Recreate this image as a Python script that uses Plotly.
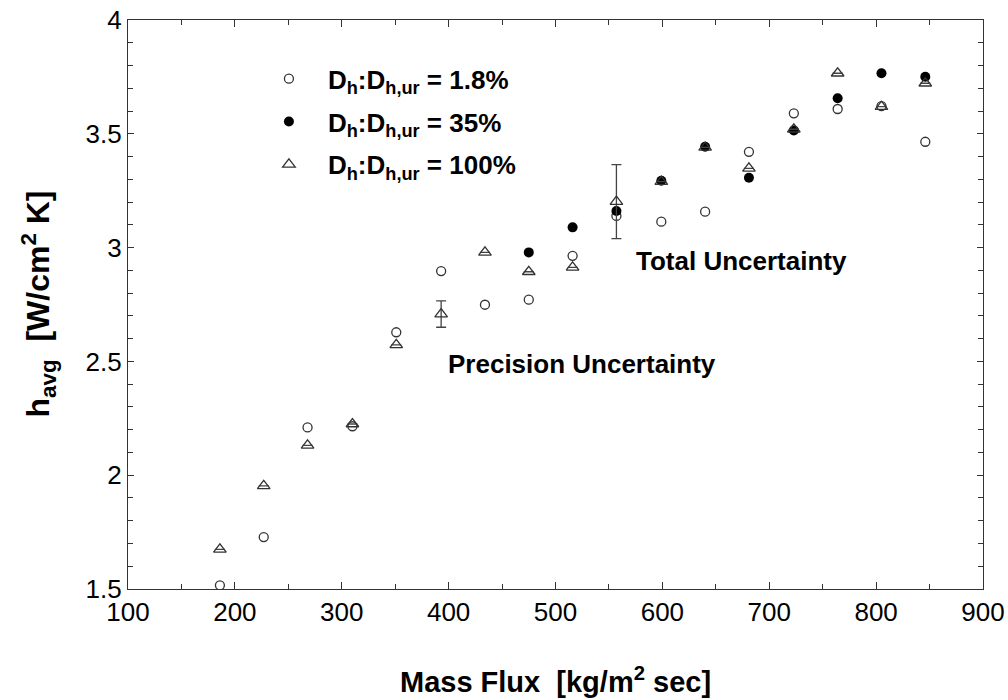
import plotly.graph_objects as go

# Mass flux [kg/m^2 sec]
mass_flux = [186, 227, 268, 310, 351, 393, 434, 475, 516, 557, 599, 640, 681, 723, 764, 805, 846]

# h_avg [W/cm^2 K]
h_18 = [1.516, 1.728, 2.210, 2.215, 2.628, 2.897, 2.749, 2.771, 2.964, 3.139, 3.114, 3.158, 3.421, 3.590, 3.609, 3.622, 3.465]
mass_flux_35 = [475, 516, 557, 599, 640, 681, 723, 764, 805, 846]
h_35 = [2.979, 3.089, 3.161, 3.294, 3.443, 3.307, 3.515, 3.656, 3.766, 3.751]
h_100 = [1.674, 1.953, 2.131, 2.225, 2.573, 2.708, 2.979, 2.894, 2.913, 3.202, 3.290, 3.440, 3.348, 3.520, 3.766, 3.619, 3.722]
# uncertainty bars on the 100% series (precision at 393, total at 557)
err_100 = [None, None, None, None, None, 0.058, None, None, None, 0.163, None, None, None, None, None, None, None]

x_ticks = [100, 200, 300, 400, 500, 600, 700, 800, 900]
y_ticks = [1.5, 2, 2.5, 3, 3.5, 4]
y_tick_text = ["1.5", "2", "2.5", "3", "3.5", "4"]

FONT = "Liberation Sans, Arial, sans-serif"
INK = "#333333"

fig = go.Figure()
fig.add_trace(go.Scatter(
    x=mass_flux, y=h_18, mode="markers",
    name="<b>D<sub>h</sub>:D<sub>h,ur</sub> = 1.8%</b>",
    legendgroup="a",
    marker=dict(symbol="circle-open", size=9, color=INK, line=dict(width=1.3, color=INK)),
))
fig.add_trace(go.Scatter(
    x=mass_flux_35, y=h_35, mode="markers",
    name="<b>D<sub>h</sub>:D<sub>h,ur</sub> = 35%</b>",
    legendgroup="b",
    marker=dict(symbol="circle", size=10, color="black", line=dict(width=0)),
))
fig.add_trace(go.Scatter(
    x=mass_flux, y=h_100, mode="markers",
    name="<b>D<sub>h</sub>:D<sub>h,ur</sub> = 100%</b>",
    legendgroup="c",
    marker=dict(symbol="triangle-up-open", size=11, color=INK, line=dict(width=1.3, color=INK)),
    error_y=dict(type="data", array=err_100, visible=True, color="#444444", thickness=1.3, width=5),
))

fig.add_annotation(x=674, y=2.943, xref="x", yref="y", text="<b>Total Uncertainty</b>",
                   showarrow=False, font=dict(family=FONT, size=26, color="black"))
fig.add_annotation(x=524.5, y=2.49, xref="x", yref="y", text="<b>Precision Uncertainty</b>",
                   showarrow=False, font=dict(family=FONT, size=26, color="black"))

# axis titles
fig.add_annotation(x=0.5, y=0, xref="paper", yref="paper", yshift=-91, yanchor="middle",
                   text="<b>Mass Flux  [kg/m<sup>2</sup> sec]</b>", showarrow=False,
                   font=dict(family=FONT, size=29, color="black"))
fig.add_annotation(x=0, y=0.5, xref="paper", yref="paper", xshift=-90, xanchor="center",
                   text="<b>h<sub>avg</sub>  [W/cm<sup>2</sup> K]</b>", showarrow=False, textangle=-90,
                   font=dict(family=FONT, size=32, color="black"))

axis_common = dict(
    showline=True, linecolor=INK, linewidth=1.3, mirror="ticks", automargin=False,
    ticks="inside", tickcolor=INK, tickwidth=1.2, showgrid=False, zeroline=False,
    tickfont=dict(family=FONT, size=26, color="black"),
)
fig.update_xaxes(range=[100, 900], tickvals=x_ticks, ticklen=7,
                 minor=dict(ticks="inside", dtick=50, ticklen=5, tickcolor=INK, tickwidth=1.2),
                 **axis_common)
fig.update_yaxes(range=[1.5, 4], tickvals=y_ticks, ticktext=y_tick_text, ticklen=6,
                 minor=dict(ticks="inside", dtick=0.1, ticklen=5, tickcolor=INK, tickwidth=1.2),
                 **axis_common)

fig.update_layout(
    width=1008, height=700,
    margin=dict(l=128, r=25, t=20, b=111, autoexpand=False),
    paper_bgcolor="white", plot_bgcolor="white",
    font=dict(family=FONT, color="black"),
    showlegend=True,
    legend=dict(x=0.1426, y=0.938, xanchor="left", yanchor="top",
                bgcolor="rgba(0,0,0,0)", font=dict(family=FONT, size=26, color="black"),
                itemwidth=68, tracegroupgap=6),
)

fig.write_html("out.html")
